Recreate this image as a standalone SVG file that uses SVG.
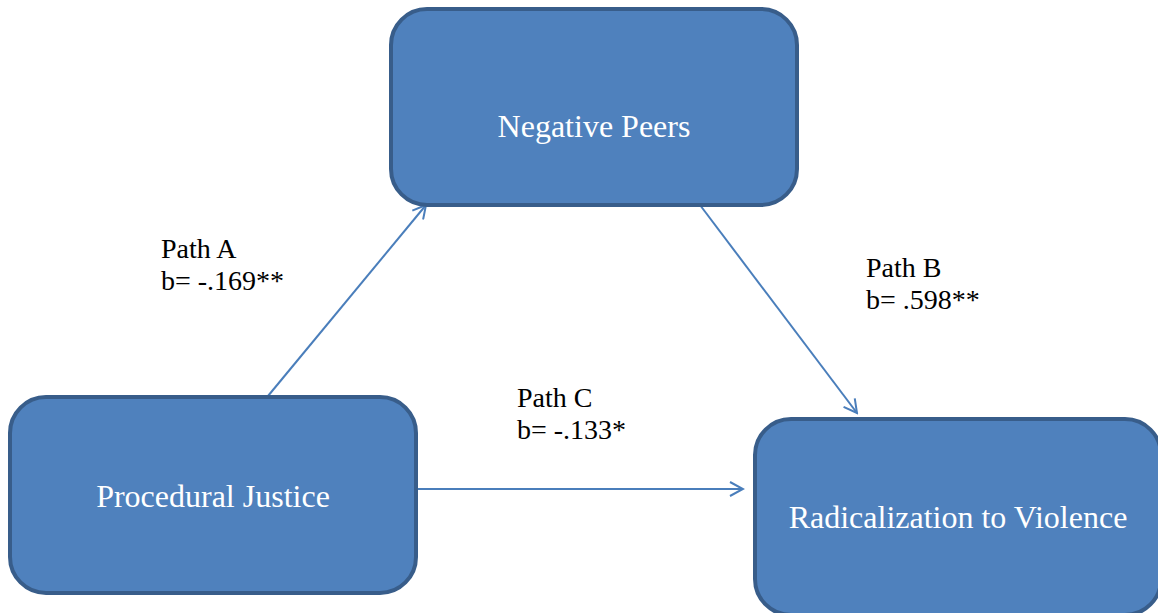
<svg xmlns="http://www.w3.org/2000/svg" width="1158" height="613" viewBox="0 0 1158 613">
  <defs>
    <style>
      .box { fill: #4f81bd; stroke: #385d8a; stroke-width: 4; }
      .box-label { font-size: 32px; fill: #ffffff; text-anchor: middle; }
      .path-label { font-size: 28px; fill: #000000; }
      .edge { fill: none; stroke: #4a7ebb; stroke-width: 2; }
    </style>
    <marker id="open-arrow" viewBox="0 0 16 16" refX="14" refY="8" markerWidth="16" markerHeight="16" markerUnits="userSpaceOnUse" orient="auto">
      <path d="M1,1 L14,8 L1,15" fill="none" stroke="#4a7ebb" stroke-width="2"/>
    </marker>
  </defs>

  <rect width="1158" height="613" fill="#ffffff"/>

  <!-- connectors -->
  <g id="connectors">
    <line class="edge" x1="268" y1="396" x2="426" y2="205" marker-end="url(#open-arrow)"/>
    <line class="edge" x1="700" y1="205" x2="857" y2="413" marker-end="url(#open-arrow)"/>
    <line class="edge" x1="418" y1="489" x2="743" y2="489" marker-end="url(#open-arrow)"/>
  </g>

  <g font-family="Liberation Serif, Times New Roman, serif">
    <g id="negative-peers">
      <rect class="box" x="391" y="9" width="406" height="196" rx="36" ry="36"/>
      <text class="box-label" x="594" y="137">Negative Peers</text>
    </g>

    <g id="procedural-justice">
      <rect class="box" x="10" y="397" width="406" height="196" rx="36" ry="36"/>
      <text class="box-label" x="213" y="507">Procedural Justice</text>
    </g>

    <g id="radicalization">
      <rect class="box" x="755" y="419" width="406" height="196" rx="36" ry="36"/>
      <text class="box-label" x="958" y="528">Radicalization to Violence</text>
    </g>

    <g id="labels">
      <text class="path-label" x="161" y="258">Path A</text>
      <text class="path-label" x="161" y="290">b= -.169**</text>
      <text class="path-label" x="866" y="277">Path B</text>
      <text class="path-label" x="866" y="309">b= .598**</text>
      <text class="path-label" x="517" y="407">Path C</text>
      <text class="path-label" x="517" y="439">b= -.133*</text>
    </g>
  </g>
</svg>
